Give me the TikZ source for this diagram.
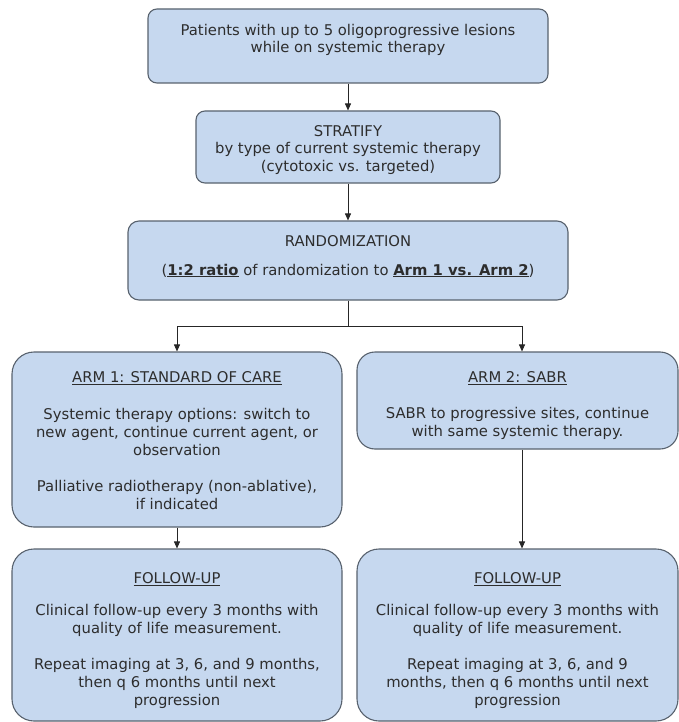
\documentclass[tikz,border=0pt]{standalone}
\usepackage{fontspec}
\setmainfont{DejaVu Sans}
\usetikzlibrary{arrows.meta,calc}
\definecolor{boxfill}{RGB}{198,216,239}
\definecolor{boxline}{RGB}{88,98,110}
\definecolor{txtcol}{RGB}{45,45,45}
\begin{document}
\begin{tikzpicture}[x=1pt,y=-1pt,
  box/.style={draw=boxline, fill=boxfill, line width=1.1pt, inner sep=0pt},
  txt/.style={text=txtcol, align=center, font=\fontsize{14.8}{18}\selectfont, inner sep=0pt},
  arr/.style={draw=black!85, line width=0.9pt, -{Triangle[length=7pt,width=6pt]}},
  ln/.style={draw=black!85, line width=0.9pt}]
\useasboundingbox[fill=white] (0,0) rectangle (679,722);

% boxes
\node[box, rounded corners=9pt, minimum width=400pt, minimum height=74pt] (b1) at (348,46) {};
\node[box, rounded corners=9pt, minimum width=304pt, minimum height=72pt] (b2) at (348,147) {};
\node[box, rounded corners=11pt, minimum width=440pt, minimum height=79pt] (b3) at (348,260.5) {};
\node[box, rounded corners=22pt, minimum width=330pt, minimum height=175pt] (arm1) at (177,439.5) {};
\node[box, rounded corners=18pt, minimum width=321pt, minimum height=97pt] (arm2) at (517.5,400.5) {};
\node[box, rounded corners=22pt, minimum width=330pt, minimum height=172pt] (fu1) at (177,635) {};
\node[box, rounded corners=22pt, minimum width=321pt, minimum height=172pt] (fu2) at (517.5,635) {};

% texts
\node[txt, font=\fontsize{14.8}{17}\selectfont] (t1) at (348,39.5) {Patients with up to 5 oligoprogressive lesions\\while on systemic therapy};
\node[txt, font=\fontsize{14.8}{17.5}\selectfont] (t2) at (348,150) {STRATIFY\\by type of current systemic therapy\\(cytotoxic vs. targeted)};
\node[txt] (t3a) at (348,241.5) {RANDOMIZATION};
\node[txt] (t3b) at (348,270.5) {(\textbf{\underline{1:2 ratio}} of randomization to \textbf{\underline{Arm 1 vs. Arm 2}})};

\node[txt] (a1t) at (177,378) {\underline{ARM 1: STANDARD OF CARE}};
\node[txt] (a1p) at (177,432) {Systemic therapy options: switch to\\new agent, continue current agent, or\\observation};
\node[txt] (a1q) at (177,495) {Palliative radiotherapy (non-ablative),\\if indicated};

\node[txt] (a2t) at (517.5,378) {\underline{ARM 2: SABR}};
\node[txt] (a2p) at (517.5,423) {SABR to progressive sites, continue\\with same systemic therapy.};

\node[txt] (f1t) at (177,579) {\underline{FOLLOW-UP}};
\node[txt] (f1p) at (177,620) {Clinical follow-up every 3 months with\\quality of life measurement.};
\node[txt] (f1q) at (177,683) {Repeat imaging at 3, 6, and 9 months,\\then q 6 months until next\\progression};

\node[txt] (f2t) at (517.5,579) {\underline{FOLLOW-UP}};
\node[txt] (f2p) at (517.5,620) {Clinical follow-up every 3 months with\\quality of life measurement.};
\node[txt] (f2q) at (517.5,683) {Repeat imaging at 3, 6, and 9\\months, then q 6 months until next\\progression};

% connectors
\coordinate (split) at (348,326);
\draw[arr] (b1.south) -- (b2.north);
\draw[arr] (b2.south) -- (b3.north);
\draw[ln] (b3.south) -- (split);
\draw[arr] (split) -| (arm1.north);
\draw[arr] (split) -| ($(arm2.north)+(4.5,0)$);
\draw[arr] (arm1.south) -- (fu1.north);
\draw[arr] ($(arm2.south)+(4.5,0)$) -- ($(fu2.north)+(4.5,0)$);
\end{tikzpicture}
\end{document}
